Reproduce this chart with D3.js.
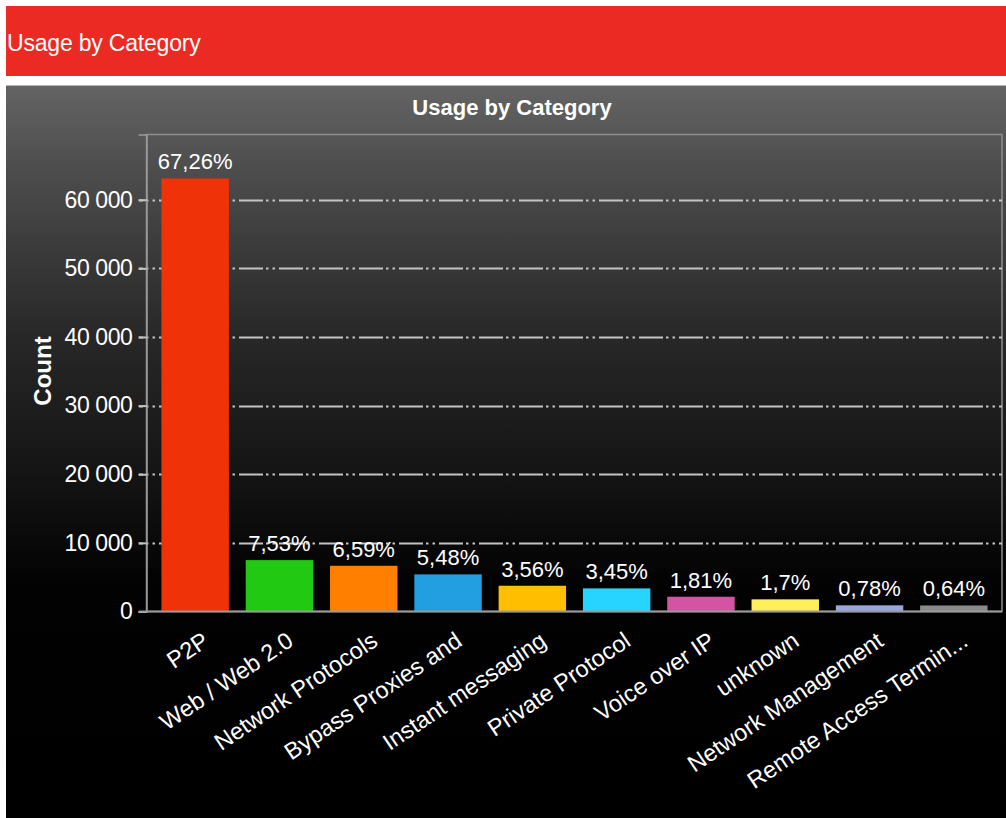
<!DOCTYPE html>
<html>
<head>
<meta charset="utf-8">
<script src="https://cdn.jsdelivr.net/npm/d3@7"></script>
<style>
  html, body { margin: 0; padding: 0; background: #ffffff; }
  svg { display: block; }
  text { font-family: "Liberation Sans", Arial, Helvetica, sans-serif; }
</style>
</head>
<body>
<svg id="chart" width="1006" height="818"></svg>
<script>
// Traffic usage per application category
const categories = [
  "P2P", "Web / Web 2.0", "Network Protocols", "Bypass Proxies and",
  "Instant messaging", "Private Protocol", "Voice over IP", "unknown",
  "Network Management", "Remote Access Termin..."
];
const counts = [63100, 7490, 6660, 5410, 3750, 3370, 2150, 1770, 900, 880];
const shares = [67.26, 7.53, 6.59, 5.48, 3.56, 3.45, 1.81, 1.7, 0.78, 0.64];
const barColors = [
  "#f03208", "#22c912", "#ff8000", "#229fe0", "#ffbe00",
  "#26d4ff", "#d553a3", "#fff05a", "#99a6dc", "#8a8a8a"
];
const yTicks = [0, 10000, 20000, 30000, 40000, 50000, 60000];

const svg = d3.select("#chart");
const W = 1006, H = 818;

// plot frame
const plot = { left: 146.5, right: 1002, top: 134.5, bottom: 611.5 };

const locale = d3.formatLocale({ decimal: ",", thousands: " ", grouping: [3], currency: ["", ""] });
const fmtCount = locale.format(",d");
const fmtShare = v => String(v).replace(".", ",") + "%";

// background gradient of the chart panel
const defs = svg.append("defs");
const grad = defs.append("linearGradient")
  .attr("id", "panelGrad").attr("x1", 0).attr("y1", 0).attr("x2", 0).attr("y2", 1);
grad.append("stop").attr("offset", "0%").attr("stop-color", "#646464");
grad.append("stop").attr("offset", "12%").attr("stop-color", "#4c4c4c");
grad.append("stop").attr("offset", "34%").attr("stop-color", "#282828");
grad.append("stop").attr("offset", "55%").attr("stop-color", "#121212");
grad.append("stop").attr("offset", "68%").attr("stop-color", "#020202");
grad.append("stop").attr("offset", "100%").attr("stop-color", "#000000");

// red header band
svg.append("rect").attr("x", 6).attr("y", 6).attr("width", W - 6).attr("height", 70)
  .attr("fill", "#ec2a24");
svg.append("text").attr("x", 7).attr("y", 51)
  .attr("fill", "#ffffff").attr("font-size", 23).attr("letter-spacing", -0.2)
  .text("Usage by Category");

// dark chart panel
svg.append("rect").attr("x", 6).attr("y", 85).attr("width", W - 6).attr("height", H - 85)
  .attr("fill", "url(#panelGrad)");
svg.append("line").attr("x1", 6).attr("x2", W).attr("y1", 85.5).attr("y2", 85.5)
  .attr("stroke", "#b5b5b5").attr("stroke-width", 1);

// chart title
svg.append("text").attr("x", 512).attr("y", 115).attr("text-anchor", "middle")
  .attr("fill", "#ffffff").attr("font-size", 22).attr("font-weight", "bold")
  .text("Usage by Category");

// scales
const x = d3.scaleBand().domain(categories)
  .range([153, 996]).paddingInner(0.2).paddingOuter(0.1);
const y = d3.scaleLinear().domain([0, 69500]).range([plot.bottom, plot.top]);

// plot border (top/right)
svg.append("rect")
  .attr("x", plot.left).attr("y", plot.top)
  .attr("width", plot.right - plot.left).attr("height", plot.bottom - plot.top)
  .attr("fill", "none").attr("stroke", "#8e8e8e").attr("stroke-width", 1.5);

// dash-dot-dot gridlines
const grid = svg.append("g").attr("class", "grid");
grid.selectAll("line").data(yTicks.filter(d => d > 0)).join("line")
  .attr("x1", 139).attr("x2", plot.right)
  .attr("y1", d => Math.round(y(d)) + 0.5).attr("y2", d => Math.round(y(d)) + 0.5)
  .attr("stroke", "#c4c4c4").attr("stroke-width", 2)
  .attr("stroke-dasharray", "4,3,2.5,4,2.5,4,20,0");

// y axis
const yAxis = svg.append("g").attr("transform", `translate(${plot.left},0)`)
  .call(d3.axisLeft(y).tickValues(yTicks).tickSize(8).tickPadding(6).tickFormat(fmtCount));
yAxis.select(".domain").attr("stroke", "#9a9a9a").attr("stroke-width", 1.5);
yAxis.selectAll(".tick line").attr("stroke", "#c4c4c4").attr("stroke-width", 2);
yAxis.selectAll(".tick text")
  .attr("fill", "#ffffff").attr("font-size", 23).attr("font-family", "Liberation Sans, Arial, sans-serif")
  .attr("letter-spacing", -0.4);

// y axis title
svg.append("text")
  .attr("transform", "translate(51,371) rotate(-90)")
  .attr("text-anchor", "middle").attr("fill", "#ffffff")
  .attr("font-size", 24).attr("font-weight", "bold")
  .text("Count");

// bars
svg.append("g").selectAll("rect").data(categories).join("rect")
  .attr("x", d => x(d))
  .attr("width", x.bandwidth())
  .attr("y", (d, i) => y(counts[i]))
  .attr("height", (d, i) => plot.bottom - y(counts[i]))
  .attr("fill", (d, i) => barColors[i]);

// share labels above bars
svg.append("g").selectAll("text").data(categories).join("text")
  .attr("x", d => x(d) + x.bandwidth() / 2)
  .attr("y", (d, i) => y(counts[i]) - 9)
  .attr("text-anchor", "middle")
  .attr("fill", "#ffffff").attr("font-size", 22)
  .text((d, i) => fmtShare(shares[i]));

// x axis
const xAxis = svg.append("g").attr("transform", `translate(0,${plot.bottom})`)
  .call(d3.axisBottom(x).tickSize(0).tickPadding(0));
xAxis.select(".domain").remove();
xAxis.selectAll(".tick text")
  .attr("fill", "#ffffff").attr("font-size", 23.5).attr("font-family", "Liberation Sans, Arial, sans-serif")
  .attr("text-anchor", "end")
  .attr("x", 0).attr("y", 0).attr("dy", "0.72em")
  .attr("transform", "translate(6,19) rotate(-34)");
svg.append("line")
  .attr("x1", 139).attr("x2", plot.right)
  .attr("y1", plot.bottom).attr("y2", plot.bottom)
  .attr("stroke", "#9a9a9a").attr("stroke-width", 2);
</script>
</body>
</html>
